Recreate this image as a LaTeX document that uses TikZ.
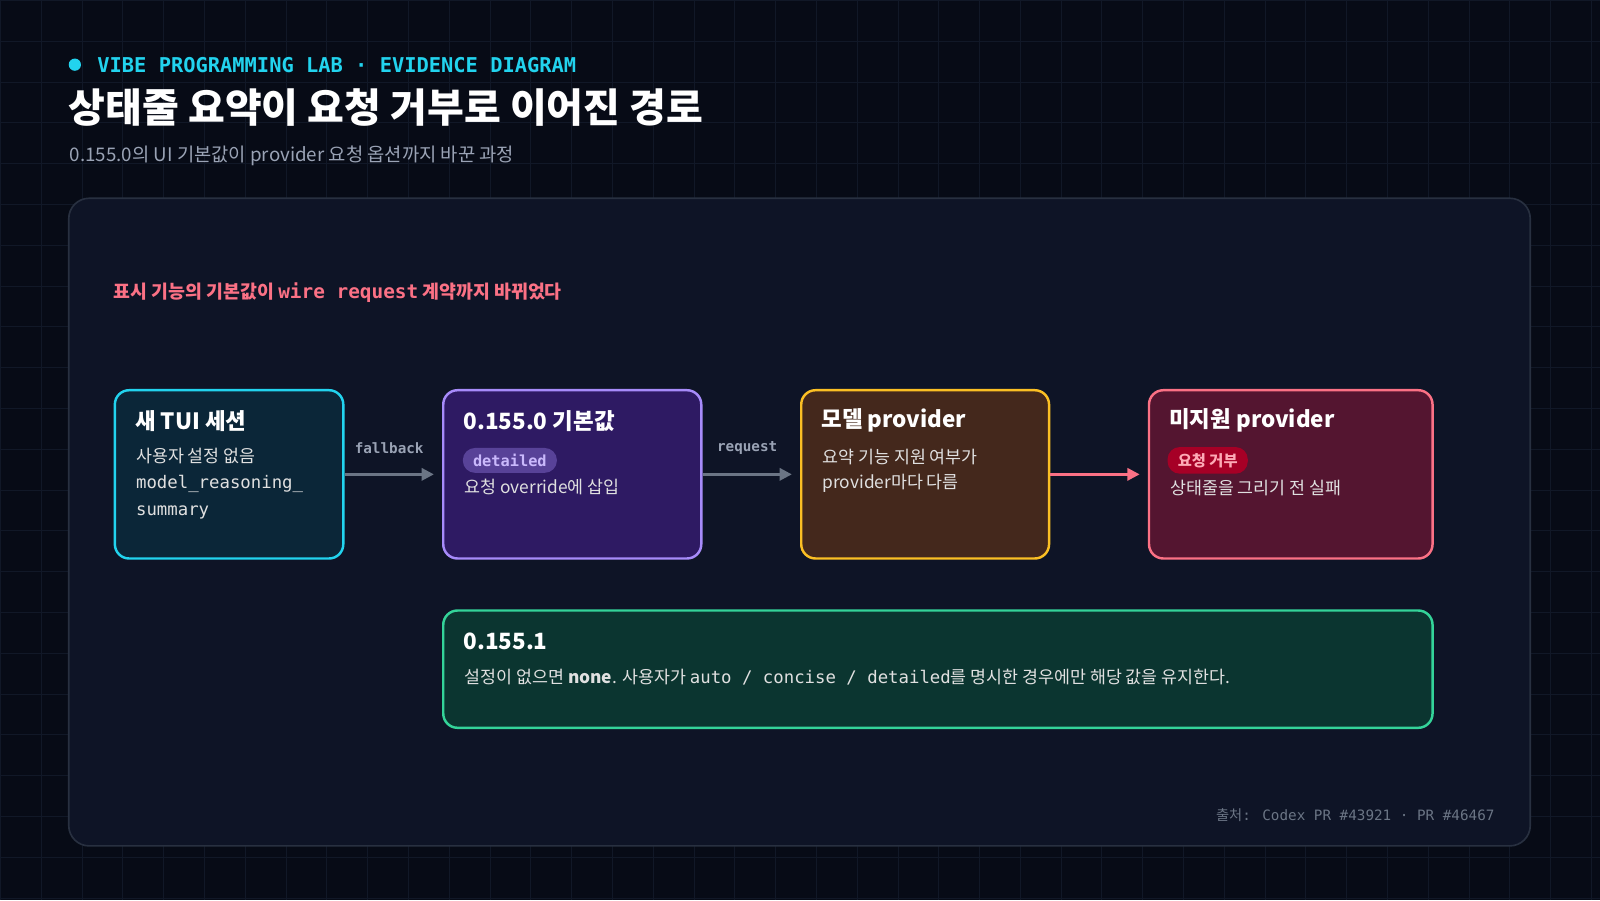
\documentclass[tikz,border=0pt]{standalone}
\usepackage{fontspec}
\setmainfont{Noto Sans CJK KR}
\newfontfamily\monof{DejaVu Sans Mono}
\usetikzlibrary{arrows.meta,positioning}
\definecolor{bgdark}{HTML}{070B16}
\definecolor{gridc}{HTML}{111827}
\definecolor{panelfill}{HTML}{0E1426}
\definecolor{panelline}{HTML}{283040}
\definecolor{cyanc}{HTML}{22D3EE}
\definecolor{pinkc}{HTML}{FB7185}
\definecolor{subgray}{HTML}{9AA3B5}
\definecolor{arrowgray}{HTML}{6B7585}
\definecolor{violetc}{HTML}{A78BFA}
\definecolor{violetf}{HTML}{2E1A63}
\definecolor{amberc}{HTML}{FBBF24}
\definecolor{amberf}{HTML}{44281C}
\definecolor{rosef}{HTML}{541530}
\definecolor{greenc}{HTML}{34D399}
\definecolor{greenf}{HTML}{0B3530}
\definecolor{cyanf}{HTML}{0B2638}
\tikzstyle{stage}=[draw, line width=1.2pt, rounded corners=7pt, anchor=north west,
  inner sep=0pt]
\tikzstyle{boxtitle}=[anchor=west, text=white, font=\fontsize{11}{13}\selectfont\bfseries]
\tikzstyle{boxtext}=[anchor=west, text=white!88!black, font=\fontsize{8.5}{10}\selectfont]
\tikzstyle{pill}=[anchor=west, rounded corners=6pt, inner xsep=5pt, inner ysep=3pt,
  font=\fontsize{7.5}{9}\selectfont\bfseries]
\tikzstyle{line}=[draw, line width=1.3pt, color=arrowgray, -{Triangle[length=6pt,width=6pt]}]
\tikzstyle{linelabel}=[text=subgray, font=\monof\fontsize{7}{8}\selectfont\bfseries]
\newcommand{\stagebox}[6]{%
  \node (#1) [stage, draw=#2, fill=#3, minimum width=#4, minimum height=82.5] at #5 {};
  \node (#1t) [boxtitle] at ([xshift=7,yshift=-15.5]#1.north west) {#6};}
\begin{document}
\begin{tikzpicture}[x=0.5pt,y=-0.5pt]
  % background and grid
  \fill[bgdark] (0,0) rectangle (1568,882);
  \foreach \gx in {0,40,...,1560} \draw[gridc, line width=0.4pt] (\gx,0) -- (\gx,882);
  \foreach \gy in {0,40,...,880} \draw[gridc, line width=0.4pt] (0,\gy) -- (1568,\gy);
  \useasboundingbox (0,0) rectangle (1568,882);

  % header
  \fill[cyanc] (73,63) circle (6);
  \node (kicker) [anchor=west, text=cyanc, font=\monof\fontsize{10}{12}\selectfont\bfseries] at (88,63)
    {VIBE PROGRAMMING LAB · EVIDENCE DIAGRAM};
  \node (title) [anchor=west, text=white, font=\fontsize{19.6}{22}\selectfont\bfseries] at (60,105)
    {상태줄 요약이 요청 거부로 이어진 경로};
  \node (subtitle) [anchor=west, text=subgray, font=\fontsize{9.2}{11}\selectfont] at (61,152)
    {0.155.0의 UI 기본값이 provider 요청 옵션까지 바꾼 과정};

  % panel
  \draw[panelline, fill=panelfill, line width=0.8pt, rounded corners=10pt] (67,194) rectangle (1500,829);
  \node (claim) [anchor=west, text=pinkc, font=\fontsize{9}{11}\selectfont\bfseries] at (104,287)
    {표시 기능의 기본값이 {\monof\fontsize{9.5}{11}\selectfont wire request} 계약까지 바뀌었다};

  % stages
  \stagebox{NEWTUI}{cyanc}{cyanf}{112}{(111,381)}{새 TUI 세션}
  \node [boxtext] at (126,447) {사용자 설정 없음};
  \node [boxtext, align=left, font=\monof\fontsize{8.5}{13}\selectfont]
    at (126,487) {model\_reasoning\_\\summary};

  \stagebox{DEFAULT}{violetc}{violetf}{126.5}{(433,381)}{0.155.0 기본값}
  \node (detailed) [pill, fill=violetc!35!violetf, text=violetc!60!white, font=\monof\fontsize{7.5}{9}\selectfont\bfseries]
    at (453,451) {detailed};
  \node [boxtext] at (448,477) {요청 override에 삽입};

  \stagebox{MODEL}{amberc}{amberf}{121.5}{(784,381)}{모델 provider}
  \node [boxtext] at (799,448) {요약 기능 지원 여부가};
  \node [boxtext] at (799,473) {provider마다 다름};

  \stagebox{UNSUP}{pinkc}{rosef}{139}{(1125,381)}{미지원 provider}
  \node (reject) [pill, fill=purple!75!red!80!black, text=pinkc!60!white]
    at (1144,451) {요청 거부};
  \node [boxtext] at (1140,478) {상태줄을 그리기 전 실패};

  % fix box
  \node (FIX) [stage, draw=greenc, fill=greenf, minimum width=485, minimum height=57.5]
    at (433,597) {};
  \node (FIXt) [boxtitle] at ([xshift=7,yshift=-15.5]FIX.north west) {0.155.1};
  \node [boxtext] at (448,664)
    {설정이 없으면 \textbf{none}. 사용자가 {\monof auto / concise / detailed}를 명시한 경우에만 해당 값을 유지한다.};

  % arrows
  \path [line] (NEWTUI.east) -- node [linelabel, above=6pt] {fallback} ([xshift=-4]DEFAULT.west);
  \path [line] (DEFAULT.east) -- node [linelabel, above=6pt] {request} ([xshift=-4]MODEL.west);
  \path [line, color=pinkc] (MODEL.east) -- ([xshift=-4]UNSUP.west);

  % source
  \node (source) [anchor=east, text=arrowgray, font=\fontsize{7}{8}\selectfont] at (1472,799)
    {출처{\monof : Codex PR \#43921 · PR \#46467}};
\end{tikzpicture}
\end{document}
